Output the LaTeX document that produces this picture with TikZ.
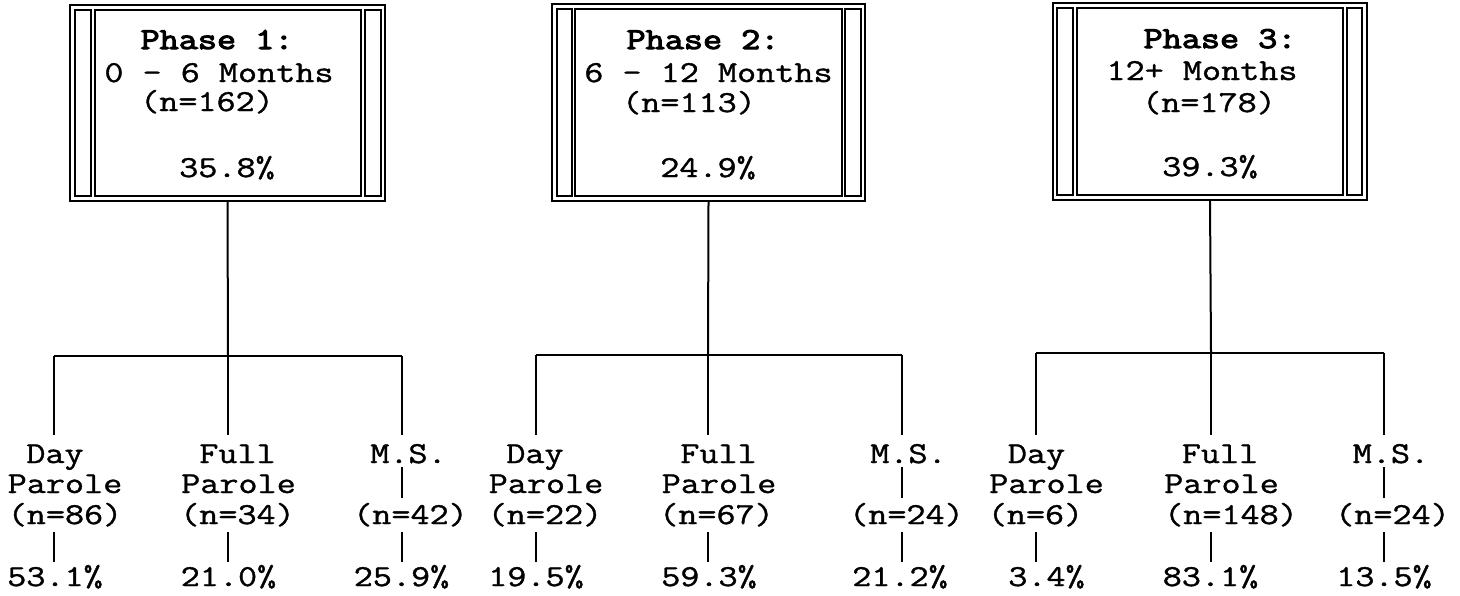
\documentclass[tikz,border=0pt]{standalone}
\usepackage{fontspec}
\newfontfamily\courf[FakeStretch=1.22,FakeBold=1.2]{Latin Modern Mono}
\newfontfamily\courbf[FakeStretch=1.22,FakeBold=3.5]{Latin Modern Mono}
\begin{document}
\begin{tikzpicture}[x=0.5pt,y=-0.5pt,
  txt/.style={font=\courf\fontsize{15.2pt}{18pt}\selectfont, inner sep=0pt, anchor=base},
  btxt/.style={txt, font=\courbf\fontsize{15.2pt}{18pt}\selectfont},
  outerbox/.style={draw, line width=1pt, inner sep=0pt},
  innerline/.style={draw, line width=0.8pt},
  conn/.style={draw, line width=1pt},
  tick/.style={draw, line width=0.8pt}]
\useasboundingbox (0,0) rectangle (1460,595);

% ---------- boxes ----------
\node[outerbox, minimum width=157.5pt, minimum height=98pt] (b1) at (227.5,103) {};
\draw[innerline] (75,10) rectangle (91,196);
\draw[innerline] (95,10) rectangle (361,196);
\draw[innerline] (365,10) rectangle (381,196);
\node[btxt] (b1a) at (217,49) {Phase 1:};
\node[txt] (b1b) at (219,82) {0 - 6 Months};
\node[txt] (b1c) at (207,111) {(n=162)};
\node[txt] (b1d) at (227,177) {35.8\%};

\node[outerbox, minimum width=156.5pt, minimum height=98.5pt] (b2) at (708.5,102.5) {};
\draw[innerline] (557,9) rectangle (572,196);
\draw[innerline] (575,9) rectangle (842,196);
\draw[innerline] (845,9) rectangle (861,196);
\node[btxt] (b2a) at (703,49) {Phase 2:};
\node[txt] (b2b) at (708.5,82) {6 - 12 Months};
\node[txt] (b2c) at (689,112) {(n=113)};
\node[txt] (b2d) at (708,177) {24.9\%};

\node[outerbox, minimum width=157pt, minimum height=98.5pt] (b3) at (1210,101.5) {};
\draw[innerline] (1057,8) rectangle (1073,195);
\draw[innerline] (1077,8) rectangle (1343,195);
\draw[innerline] (1347,8) rectangle (1362,195);
\node[btxt] (b3a) at (1220,48) {Phase 3:};
\node[txt] (b3b) at (1202,80) {12+ Months};
\node[txt] (b3c) at (1209,112) {(n=178)};
\node[txt] (b3d) at (1210,176) {39.3\%};

% ---------- junction coordinates ----------
\coordinate (j1) at (228,356);
\coordinate (j1l) at (54,356);
\coordinate (j1r) at (402,356);
\coordinate (j2) at (708,355);
\coordinate (j2l) at (536,355);
\coordinate (j2r) at (902,355);
\coordinate (j3) at (1211,353);
\coordinate (j3l) at (1036,353);
\coordinate (j3r) at (1384,353);

% ---------- leaf texts ----------
% group 1
\node[txt] (d1a) at (55,463) {Day};
\node[txt] (d1b) at (65,493) {Parole};
\node[txt] (d1c) at (65,524) {(n=86)};
\node[txt] (d1p) at (55,586) {53.1\%};
\node[txt] (f1a) at (237.5,463) {Full};
\node[txt] (f1b) at (238.5,493) {Parole};
\node[txt] (f1c) at (237.5,524) {(n=34)};
\node[txt] (f1p) at (228.5,586) {21.0\%};
\node[txt] (m1a) at (408.5,463) {M.S.};
\node[txt] (m1c) at (410.5,524) {(n=42)};
\node[txt] (m1p) at (401.5,586) {25.9\%};
% group 2
\node[txt] (d2a) at (535,463) {Day};
\node[txt] (d2b) at (546,493) {Parole};
\node[txt] (d2c) at (545,524) {(n=22)};
\node[txt] (d2p) at (536,586) {19.5\%};
\node[txt] (f2a) at (718.5,463) {Full};
\node[txt] (f2b) at (719,493) {Parole};
\node[txt] (f2c) at (716.5,524) {(n=67)};
\node[txt] (f2p) at (709,586) {59.3\%};
\node[txt] (m2a) at (908.5,463) {M.S.};
\node[txt] (m2c) at (906.5,524) {(n=24)};
\node[txt] (m2p) at (900,586) {21.2\%};
% group 3
\node[txt] (d3a) at (1036.5,463) {Day};
\node[txt] (d3b) at (1046.5,493) {Parole};
\node[txt] (d3c) at (1035.5,524) {(n=6)};
\node[txt] (d3p) at (1046.5,586) {3.4\%};
\node[txt] (f3a) at (1220,463) {Full};
\node[txt] (f3b) at (1221.5,493) {Parole};
\node[txt] (f3c) at (1231,524) {(n=148)};
\node[txt] (f3p) at (1210.5,586) {83.1\%};
\node[txt] (m3a) at (1391,463) {M.S.};
\node[txt] (m3c) at (1392.5,524) {(n=24)};
\node[txt] (m3p) at (1384,586) {13.5\%};

% ---------- connectors ----------
\foreach \g/\b in {1/b1,2/b2,3/b3}{
  \draw[conn] (\b.south) -- (j\g);
  \draw[conn] (j\g l) -- (j\g r);
}
% verticals from bars to leaves (ending at y=435)
\draw[conn] (j1l) -- (54,435) coordinate (e1l);
\draw[conn] (j1) -- (228,435) coordinate (e1m);
\draw[conn] (j1r) -- (402,435) coordinate (e1r);
\draw[conn] (j2l) -- (536,435) coordinate (e2l);
\draw[conn] (j2) -- (708,435) coordinate (e2m);
\draw[conn] (j2r) -- (902,435) coordinate (e2r);
\draw[conn] (j3l) -- (1036,435) coordinate (e3l);
\draw[conn] (j3) -- (1211,435) coordinate (e3m);
\draw[conn] (j3r) -- (1384,435) coordinate (e3r);

% small ticks M.S. -> (n=..)
\draw[tick] (402,467) coordinate (t1a) -- (402,498) coordinate (t1b);
\draw[tick] (902,467) coordinate (t2a) -- (902,498) coordinate (t2b);
\draw[tick] (1384,467) coordinate (t3a) -- (1384,498) coordinate (t3b);

% small ticks (n=..) -> percentages
\foreach \x in {54,228,402,536,708,902,1036,1211,1384}{
  \draw[tick] (\x,532) -- (\x,562);
}
\end{tikzpicture}
\end{document}
